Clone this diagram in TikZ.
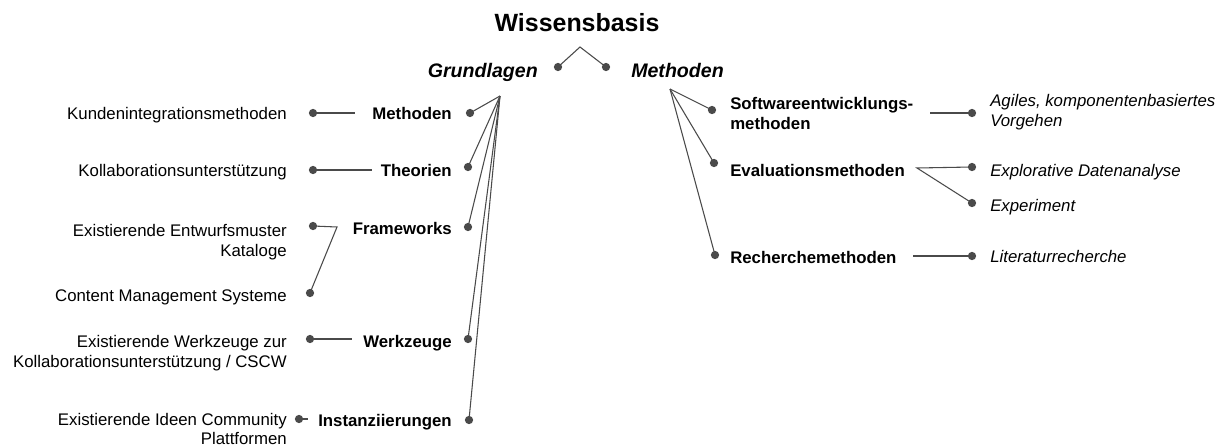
\documentclass[tikz,border=0pt]{standalone}
\usepackage{fontspec}
\setmainfont{Liberation Sans}
\definecolor{linegray}{HTML}{4A4A4A}
\tikzset{
  lbl/.style={inner sep=0pt, font=\fontsize{12.6}{14.8}\selectfont},
  lblbold/.style={lbl, font=\fontsize{12.6}{14.8}\selectfont\bfseries},
  lblit/.style={lbl, font=\fontsize{12.6}{14.8}\selectfont\itshape},
  head/.style={inner sep=0pt, font=\fontsize{14.7}{17}\selectfont\bfseries\itshape},
  title/.style={inner sep=0pt, font=\fontsize{18.7}{22}\selectfont\bfseries},
  dot/.style={circle, fill=linegray, inner sep=0pt, minimum size=6.2pt},
  link/.style={draw=linegray, line width=0.8pt}
}
\begin{document}
\begin{tikzpicture}[x=0.75pt, y=-0.75pt]
\useasboundingbox (0,0) rectangle (1229,447);

% --- root ---
\node[title, anchor=base] (root) at (577,31) {Wissensbasis};
\coordinate (rootA) at (580,47);
\node[dot] (rdL) at (558,67) {};
\node[dot] (rdR) at (606,67) {};
\draw[link] (rdL.center) -- (rootA) -- (rdR.center);

\node[head, anchor=base east] (grund) at (538,77) {Grundlagen};
\node[head, anchor=base west] (meth) at (631,77) {Methoden};

% --- Grundlagen branch ---
\coordinate (gA) at (500,96);
\node[dot] (gdM) at (470,113) {};
\node[dot] (gdT) at (468,167) {};
\node[dot] (gdF) at (468,227) {};
\node[dot] (gdW) at (468,339) {};
\node[dot] (gdI) at (469,420) {};
\foreach \d in {gdM,gdT,gdF,gdW,gdI} \draw[link] (gA) -- (\d.center);

\node[lblbold, anchor=base east] (gM) at (452,119) {Methoden};
\node[lblbold, anchor=base east] (gT) at (452,176) {Theorien};
\node[lblbold, anchor=base east] (gF) at (452,234) {Frameworks};
\node[lblbold, anchor=base east] (gW) at (452,347) {Werkzeuge};
\node[lblbold, anchor=base east] (gI) at (452,426) {Instanziierungen};

% leaves on the left
\node[lbl, anchor=base east] (lK) at (287,119) {Kundenintegrationsmethoden};
\node[lbl, anchor=base east] (lC) at (287,176) {Kollaborationsunterstützung};
\node[lbl, anchor=north east, align=right] (lE) at (287,224) {Existierende Entwurfsmuster\\Kataloge};
\node[lbl, anchor=base east] (lS) at (287,301) {Content Management Systeme};
\node[lbl, anchor=north east, align=right] (lW) at (287,335) {Existierende Werkzeuge zur\\Kollaborationsunterstützung / CSCW};
\node[lbl, anchor=north east, align=right, font=\fontsize{12.6}{14.2}\selectfont] (lI) at (287,413) {Existierende Ideen Community\\Plattformen};

\node[dot] (ldK) at (313,113) {};
\node[dot] (ldC) at (313,170) {};
\node[dot] (ldE) at (313,226) {};
\node[dot] (ldS) at (310,293) {};
\node[dot] (ldW) at (310,339) {};
\node[dot] (ldI) at (299,419) {};
\coordinate (eK) at (355,113);
\coordinate (eC) at (372,170);
\coordinate (eF) at (337,227);
\coordinate (eW) at (352,339);
\coordinate (eI) at (308,419);
\draw[link] (ldK.center) -- (eK);
\draw[link] (ldC.center) -- (eC);
\draw[link] (ldE.center) -- (eF) -- (ldS.center);
\draw[link] (ldW.center) -- (eW);
\draw[link] (ldI.center) -- (eI);

% --- Methoden branch ---
\coordinate (mA) at (670,89);
\node[dot] (mdS) at (712,110) {};
\node[dot] (mdE) at (714,163) {};
\node[dot] (mdR) at (715,255) {};
\foreach \d in {mdS,mdE,mdR} \draw[link] (mA) -- (\d.center);

\node[lblbold, anchor=north west, align=left] (mS) at (730,97) {Softwareentwicklungs-\\methoden};
\node[lblbold, anchor=base west] (mE) at (730,176) {Evaluationsmethoden};
\node[lblbold, anchor=base west] (mR) at (730,263) {Recherchemethoden};

% leaves on the right
\coordinate (sS) at (930,113);
\coordinate (sE) at (917,168);
\coordinate (sR) at (913,256);
\node[dot] (rdA) at (972,113) {};
\node[dot] (rdX) at (972,167) {};
\node[dot] (rdP) at (972,203) {};
\node[dot] (rdL2) at (972,256) {};
\draw[link] (sS) -- (rdA.center);
\draw[link] (rdX.center) -- (sE) -- (rdP.center);
\draw[link] (sR) -- (rdL2.center);

\node[lblit, anchor=north west, align=left] (rA) at (990,94) {Agiles, komponentenbasiertes\\Vorgehen};
\node[lblit, anchor=base west] (rX) at (990,176) {Explorative Datenanalyse};
\node[lblit, anchor=base west] (rP) at (990,211) {Experiment};
\node[lblit, anchor=base west] (rL) at (990,262) {Literaturrecherche};
\end{tikzpicture}
\end{document}
